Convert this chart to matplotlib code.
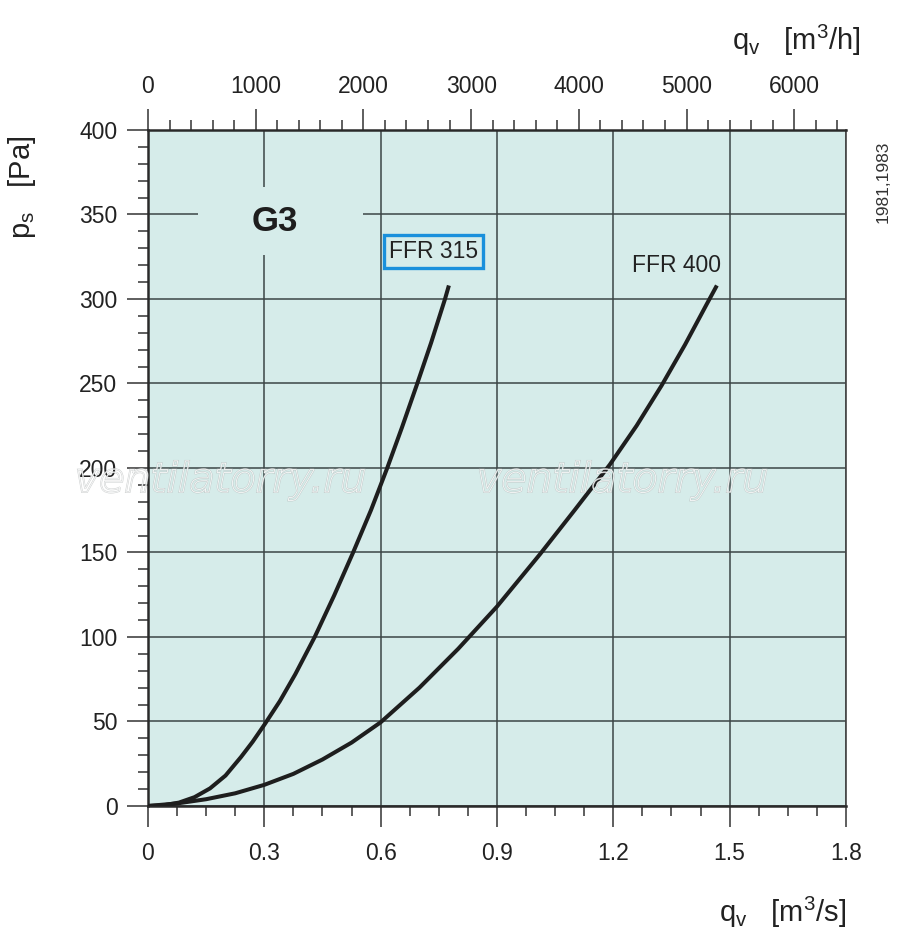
import matplotlib.pyplot as plt
from matplotlib.patches import Rectangle, PathPatch
from matplotlib.textpath import TextPath
from matplotlib.font_manager import FontProperties
from matplotlib.transforms import Affine2D
from matplotlib.ticker import MultipleLocator

# values: airflow q_v [m3/s] vs static pressure p_s [Pa]
ffr315_q = [0.0, 0.04, 0.08, 0.12, 0.16, 0.2, 0.24, 0.27, 0.3, 0.34, 0.38, 0.43, 0.48,
            0.529, 0.575, 0.617, 0.655, 0.693, 0.73, 0.766, 0.776]
ffr315_p = [0, 0.4, 2, 5.2, 10.4, 18, 29, 38, 48, 62, 78, 100, 124.5,
            150, 175, 200, 224, 249, 274, 300, 308]
ffr400_q = [0.0, 0.075, 0.15, 0.225, 0.3, 0.375, 0.45, 0.525, 0.6, 0.7, 0.8, 0.9,
            1.011, 1.1, 1.191, 1.26, 1.325, 1.385, 1.441, 1.467]
ffr400_p = [0, 1.5, 4, 7.5, 12.5, 19, 27.5, 37.5, 49.5, 70, 93, 118,
            149, 175, 202, 225, 249, 273, 297, 308]

x_ticks = [0, 0.3, 0.6, 0.9, 1.2, 1.5, 1.8]
x_labels = ['0', '0.3', '0.6', '0.9', '1.2', '1.5', '1.8']
y_ticks = [0, 50, 100, 150, 200, 250, 300, 350, 400]
top_ticks = [0, 1000, 2000, 3000, 4000, 5000, 6000]

bg = '#d6ecea'
ink = '#1e1e1e'
txt = '#222222'
tickc = '#333333'

plt.rcParams['font.family'] = ['Liberation Sans', 'DejaVu Sans']
plt.rcParams['mathtext.fontset'] = 'custom'
plt.rcParams['mathtext.rm'] = 'Liberation Sans'
plt.rcParams['mathtext.it'] = 'Liberation Sans:italic'

fig = plt.figure(figsize=(9, 9.51), dpi=100)
ax = fig.add_axes([0.1644, 0.1525, 0.7756, 0.7108])
ax.set_facecolor(bg)
ax.set_xlim(0, 1.8)
ax.set_ylim(0, 400)

ax.set_axisbelow(True)
ax.grid(True, which='major', color='#3c4646', linewidth=1.1)

# gap in the grid behind the G3 label
ax.add_patch(Rectangle((0.129, 326), 0.425, 40, facecolor=bg, edgecolor='none', zorder=1))

ax.plot(ffr315_q, ffr315_p, color=ink, lw=2.9, solid_capstyle='butt', zorder=3)
ax.plot(ffr400_q, ffr400_p, color=ink, lw=2.9, solid_capstyle='butt', zorder=3)

ax.text(0.327, 346, 'G3', fontsize=25, fontweight='bold', ha='center', va='center',
        color=ink, zorder=4)
ax.text(0.736, 328, 'FFR 315', fontsize=16.5, ha='center', va='center', color=txt, zorder=4,
        bbox=dict(boxstyle='square,pad=0.22', facecolor=bg, edgecolor='#1a90dc', linewidth=2.4))
ax.text(1.364, 320, 'FFR 400', fontsize=16.5, ha='center', va='center', color=txt, zorder=4)

ax.set_xticks(x_ticks)
ax.set_xticklabels(x_labels)
ax.set_yticks(y_ticks)
ax.xaxis.set_minor_locator(MultipleLocator(0.075))
ax.yaxis.set_minor_locator(MultipleLocator(10))
ax.tick_params(which='major', direction='out', length=15, width=1.1, color=tickc,
               labelsize=16.5, labelcolor=txt)
ax.tick_params(axis='x', which='major', pad=11)
ax.tick_params(axis='y', which='major', pad=7)
ax.tick_params(which='minor', direction='out', length=7, width=1.1, color=tickc)

for side in ['left', 'bottom', 'top']:
    ax.spines[side].set_linewidth(1.8)
    ax.spines[side].set_color('#2a2a2a')
ax.spines['right'].set_linewidth(1.2)
ax.spines['right'].set_color('#444444')

top = ax.secondary_xaxis('top', functions=(lambda q: q * 3600, lambda h: h / 3600))
top.set_xticks(top_ticks)
top.xaxis.set_minor_locator(MultipleLocator(200))
top.tick_params(which='major', direction='out', length=15, width=1.1, color=tickc,
                labelsize=16.5, labelcolor=txt, pad=8)
top.tick_params(which='minor', direction='out', length=7, width=1.1, color=tickc)
top.spines['top'].set_visible(False)

fig.text(0.025, 0.803, r'p$_\mathrm{s}$   [Pa]', rotation=90, fontsize=21,
         ha='center', va='center', color=txt)
fig.text(0.885, 0.958, r'q$_\mathrm{v}$   [m$^3$/h]', fontsize=21,
         ha='center', va='center', color=txt)
fig.text(0.870, 0.041, r'q$_\mathrm{v}$   [m$^3$/s]', fontsize=21,
         ha='center', va='center', color=txt)
fig.text(0.981, 0.809, '1981,1983', rotation=90, fontsize=12.5, ha='center', va='center',
         color='#333333')

# outlined watermark, drawn in pixel coordinates (grey rim under a white line)
wm_font = FontProperties(family='DejaVu Sans', style='oblique')
for x0 in [75, 477]:
    tp = TextPath((0, 0), 'ventilatorry.ru', size=41, prop=wm_font)
    place = Affine2D().translate(x0, 459)
    fig.add_artist(PathPatch(tp, facecolor='none', edgecolor='#b8bcbc', lw=1.3, alpha=0.7,
                             transform=place, zorder=10))
    fig.add_artist(PathPatch(tp, facecolor='none', edgecolor='white', lw=0.6, alpha=0.9,
                             transform=place, zorder=11))

fig.savefig('out.png', dpi=100)
